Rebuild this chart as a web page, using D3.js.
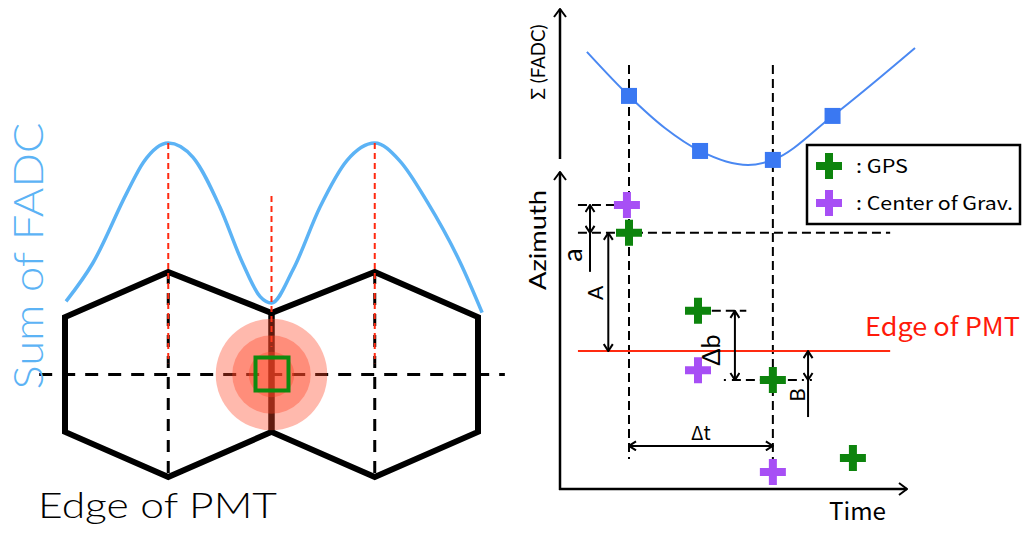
<!DOCTYPE html>
<html><head><meta charset="utf-8">
<script src="https://cdn.jsdelivr.net/npm/d3@7"></script>
<style>html,body{margin:0;padding:0;background:#fff;overflow:hidden}svg{display:block}</style>
</head><body>
<svg id="c" width="1024" height="534"></svg>
<script>
// ================= DATA =================
// Left panel: two PMT hexagons (x in PMT-column units, y in half-height units)
const hexLeft  = [[1,1],[2,0.6],[2,-0.56],[1,-1],[0,-0.56],[0,0.56]];
const hexRight = [[3,1],[4,0.56],[4,-0.56],[3,-1],[2,-0.56],[2,0.6]];
const pmtCenters = [1, 3];          // PMT centre columns (dashed verticals)
const edgeColumn = 2;               // shared edge column
// Sum of FADC along the track (x column units, normalized signal)
const sumFadcX = [0.01,0.27,0.60,0.76,1.00,1.24,1.50,1.72,1.89,2.00,2.21,2.47,2.73,3.00,3.24,3.51,3.83,4.04];
const sumFadcY = [0.01,0.25,0.69,0.88,1.00,0.91,0.60,0.25,0.04,0.00,0.21,0.60,0.89,1.00,0.89,0.63,0.25,-0.06];
const spotRadii = [0.54, 0.38, 0.22]; // shower spot rings (column units)

// Right panel: Σ FADC curve vs time, sample points
const fadcCurveT = [7.8, 20, 30.4, 40.6, 54.5, 61.7, 79, 102.9];
const fadcCurveV = [73.8, 46.3, 26.3, 11.9, 3.1, 6.3, 33.8, 76.3];
const fadcSampleT = [20, 40.6, 61.7, 79];
const fadcSampleV = [46.3, 11.9, 6.3, 33.8];
// Azimuth vs time markers
const gpsT = [20, 40, 61.7, 84.9];
const gpsAz = [80.8, 56.2, 34.4, 9.8];
const cogT = [19.4, 40, 61.7];
const cogAz = [89.6, 37.5, 5.4];
const edgeAz = 43.5;
const t1 = 20, t2 = 61.7;
const legendLabels = [": GPS", ": Center of Grav."];

// ================= DRAW =================
const svg = d3.select('#c');
const defs = svg.append('defs');
function marker(id, w, h) {
  defs.append('marker').attr('id', id).attr('markerUnits', 'userSpaceOnUse')
    .attr('viewBox', `0 0 ${w} ${h}`).attr('markerWidth', w).attr('markerHeight', h)
    .attr('refX', w - 1).attr('refY', h / 2).attr('orient', 'auto-start-reverse')
    .append('path').attr('d', `M1,1 L${w - 1},${h / 2} L1,${h - 1}`)
    .attr('fill', 'none').attr('stroke', '#000').attr('stroke-width', 2);
}
marker('arr', 9, 11);
marker('axarr', 10, 14);

// ---------- Left panel ----------
const xL = d3.scaleLinear().domain([0, 4]).range([65, 478]);
const yL = d3.scaleLinear().domain([-1, 1]).range([477, 272]);
const yS = d3.scaleLinear().domain([0, 1]).range([303, 143]);
const L = svg.append('g');

L.append('path')
  .attr('d', d3.line().curve(d3.curveMonotoneX).x(d => xL(d[0])).y(d => yS(d[1]))(d3.zip(sumFadcX, sumFadcY)))
  .attr('fill', 'none').attr('stroke', '#5cb3f5').attr('stroke-width', 3.5);

// black dashed verticals through PMT centres
L.selectAll('.pv').data(pmtCenters).join('line')
  .attr('x1', d => xL(d)).attr('x2', d => xL(d)).attr('y1', yL(1)).attr('y2', yL(-1))
  .attr('stroke', '#000').attr('stroke-width', 3).attr('stroke-dasharray', '12,9');

// hexagons
const hexLine = d3.line().x(d => xL(d[0])).y(d => yL(d[1]));
L.selectAll('.hex').data([hexLeft, hexRight]).join('path')
  .attr('d', d => hexLine(d) + 'Z')
  .attr('fill', 'none').attr('stroke', '#000').attr('stroke-width', 6).attr('stroke-linejoin', 'miter');

// horizontal dashed track line
L.append('line').attr('x1', xL(-0.25)).attr('x2', xL(4.26)).attr('y1', yL(0)).attr('y2', yL(0))
  .attr('stroke', '#000').attr('stroke-width', 3).attr('stroke-dasharray', '13,10');

// red dashed peak/valley markers
L.selectAll('.rv').data(pmtCenters).join('line')
  .attr('x1', d => xL(d)).attr('x2', d => xL(d)).attr('y1', yS(1)).attr('y2', yL(0.11))
  .attr('stroke', '#ff2a10').attr('stroke-width', 2).attr('stroke-dasharray', '6,4');
L.append('line').attr('x1', xL(edgeColumn)).attr('x2', xL(edgeColumn)).attr('y1', 196).attr('y2', yL(0.27))
  .attr('stroke', '#ff2a10').attr('stroke-width', 2).attr('stroke-dasharray', '6,4');

// shower spot
L.selectAll('.spot').data(spotRadii).join('circle')
  .attr('cx', xL(edgeColumn)).attr('cy', yL(0)).attr('r', d => xL(d) - xL(0))
  .attr('fill', 'rgba(255,70,40,0.38)');
L.append('rect').attr('x', xL(edgeColumn) - 16).attr('y', yL(0) - 17).attr('width', 33).attr('height', 33)
  .attr('fill', 'none').attr('stroke', '#0f8a0f').attr('stroke-width', 4);

L.append('text').attr('transform', `translate(43,256) rotate(-90)`).attr('text-anchor', 'middle')
  .attr('font-family', 'Lato, "Open Sans", sans-serif').attr('font-weight', 300).attr('font-size', 42)
  .attr('fill', '#5cb3f5').attr('textLength', 267).attr('lengthAdjust', 'spacingAndGlyphs')
  .text('Sum of  FADC');
L.append('text').attr('x', 38).attr('y', 518)
  .attr('font-family', 'Lato, "Open Sans", sans-serif').attr('font-weight', 300).attr('font-size', 35)
  .attr('fill', '#000').attr('textLength', 239).attr('lengthAdjust', 'spacingAndGlyphs')
  .text('Edge of PMT');

// ---------- Right panel ----------
const xT = d3.scaleLinear().domain([0, 100]).range([560, 905]);
const yF = d3.scaleLinear().domain([0, 100]).range([170, 10]);
const yA = d3.scaleLinear().domain([0, 100]).range([489, 172]);
const R = svg.append('g');
const jp = '"Noto Sans CJK JP", "Noto Sans", sans-serif';
const geo = 'Lato, "Noto Sans", sans-serif';

// axes
R.append('line').attr('x1', xT(0)).attr('x2', xT(0)).attr('y1', 159).attr('y2', 9)
  .attr('stroke', '#000').attr('stroke-width', 2.5).attr('marker-end', 'url(#axarr)');
R.append('line').attr('x1', xT(0)).attr('x2', xT(0)).attr('y1', yA(0) + 1).attr('y2', yA(100))
  .attr('stroke', '#000').attr('stroke-width', 2.5).attr('marker-end', 'url(#axarr)');
R.append('line').attr('x1', xT(0) - 1).attr('x2', xT(100) + 2).attr('y1', yA(0)).attr('y2', yA(0))
  .attr('stroke', '#000').attr('stroke-width', 2.5).attr('marker-end', 'url(#axarr)');

// FADC curve
R.append('path')
  .attr('d', d3.line().curve(d3.curveMonotoneX).x(d => xT(d[0])).y(d => yF(d[1]))(d3.zip(fadcCurveT, fadcCurveV)))
  .attr('fill', 'none').attr('stroke', '#4a88f2').attr('stroke-width', 2);

// guide dashed lines
const dash = '9,5';
[t1, t2].forEach(t => {
  R.append('line').attr('x1', xT(t)).attr('x2', xT(t)).attr('y1', yF(65.6)).attr('y2', yA(9.5))
    .attr('stroke', '#000').attr('stroke-width', 2).attr('stroke-dasharray', dash);
});
R.append('line').attr('x1', xT(5.2)).attr('x2', xT(95.7)).attr('y1', yA(gpsAz[0])).attr('y2', yA(gpsAz[0]))
  .attr('stroke', '#000').attr('stroke-width', 2).attr('stroke-dasharray', dash);
R.append('line').attr('x1', xT(5.2)).attr('x2', xT(cogT[0])).attr('y1', yA(cogAz[0])).attr('y2', yA(cogAz[0]))
  .attr('stroke', '#000').attr('stroke-width', 2).attr('stroke-dasharray', dash);
R.append('line').attr('x1', xT(44)).attr('x2', xT(54)).attr('y1', yA(gpsAz[1])).attr('y2', yA(gpsAz[1]))
  .attr('stroke', '#000').attr('stroke-width', 2).attr('stroke-dasharray', dash);
R.append('line').attr('x1', xT(47.5)).attr('x2', xT(73)).attr('y1', yA(gpsAz[2])).attr('y2', yA(gpsAz[2]))
  .attr('stroke', '#000').attr('stroke-width', 2).attr('stroke-dasharray', '2,6,9,5,9,5,9,5,9,5,9,5');

// edge of PMT line
R.append('line').attr('x1', xT(5.2)).attr('x2', xT(95.7)).attr('y1', yA(edgeAz)).attr('y2', yA(edgeAz))
  .attr('stroke', '#ff2a10').attr('stroke-width', 2);

// FADC sample squares
R.selectAll('.sq').data(d3.zip(fadcSampleT, fadcSampleV)).join('rect')
  .attr('x', d => xT(d[0]) - 8).attr('y', d => yF(d[1]) - 8).attr('width', 16).attr('height', 16)
  .attr('fill', '#3a78f2');

// arrows
function arrow(x1, y1, x2, y2, both) {
  const l = R.append('line').attr('x1', x1).attr('y1', y1).attr('x2', x2).attr('y2', y2)
    .attr('stroke', '#000').attr('stroke-width', 2).attr('marker-end', 'url(#arr)');
  if (both) l.attr('marker-start', 'url(#arr)');
}
// a
arrow(xT(8.7), yA(cogAz[0]), xT(8.7), yA(gpsAz[0]), true);
R.append('line').attr('x1', xT(8.7)).attr('x2', xT(8.7)).attr('y1', yA(gpsAz[0])).attr('y2', yA(68.5))
  .attr('stroke', '#000').attr('stroke-width', 2);
// A
arrow(xT(14), yA(gpsAz[0]), xT(14), yA(edgeAz), true);
// Δb
arrow(xT(50.7), yA(gpsAz[1]), xT(50.7), yA(gpsAz[2]), true);
// B
arrow(xT(71.9), yA(edgeAz), xT(71.9), yA(gpsAz[2]), true);
R.append('line').attr('x1', xT(71.9)).attr('x2', xT(71.9)).attr('y1', yA(gpsAz[2])).attr('y2', yA(22.7))
  .attr('stroke', '#000').attr('stroke-width', 2);
// Δt
arrow(xT(t1), yA(13.6), xT(t2), yA(13.6), true);

// crosses
function cross(g, x, y, color, s = 13, w = 8) {
  g.append('path').attr('d', `M${x - s},${y}H${x + s}M${x},${y - s}V${y + s}`)
    .attr('stroke', color).attr('stroke-width', w).attr('fill', 'none');
}
const GREEN = '#0d840d', PURPLE = '#a74ff5';
d3.zip(gpsT, gpsAz).forEach(d => cross(R, xT(d[0]), yA(d[1]), GREEN));
d3.zip(cogT, cogAz).forEach(d => cross(R, xT(d[0]), yA(d[1]), PURPLE));

// labels
function vtext(x, y, txt, size, font, len) {
  const t = R.append('text').attr('transform', `translate(${x},${y}) rotate(-90)`).attr('text-anchor', 'middle')
    .attr('font-family', font).attr('font-size', size).attr('fill', '#000').text(txt);
  if (len) t.attr('textLength', len).attr('lengthAdjust', 'spacingAndGlyphs');
}
vtext(545, 62, 'Σ (FADC)', 19, geo, 75);
vtext(546, 240, 'Azimuth', 24, geo, 100);
vtext(582, 255, 'a', 27, geo);
vtext(603, 293, 'A', 21, geo);
vtext(720, 350, 'Δb', 25, geo);
vtext(805, 395, 'B', 21, geo);
R.append('text').attr('x', (xT(t1) + xT(t2)) / 2).attr('y', 440).attr('text-anchor', 'middle')
  .attr('font-family', jp).attr('font-size', 19).text('Δt');
R.append('text').attr('x', 865).attr('y', 336).attr('font-family', jp).attr('font-size', 25)
  .attr('fill', '#ff1a0a').attr('textLength', 155).attr('lengthAdjust', 'spacingAndGlyphs').text('Edge of PMT');
R.append('text').attr('x', 829).attr('y', 520).attr('font-family', jp).attr('font-size', 24)
  .attr('textLength', 57).attr('lengthAdjust', 'spacingAndGlyphs').text('Time');

// legend
const lg = R.append('g');
lg.append('rect').attr('x', 807).attr('y', 145).attr('width', 213).attr('height', 79)
  .attr('fill', '#fff').attr('stroke', '#000').attr('stroke-width', 2.5);
const legLen = [52, 157];
[GREEN, PURPLE].forEach((c, i) => {
  cross(lg, 829, 166 + i * 37, c, 13, 8);
  lg.append('text').attr('x', 856).attr('y', 173 + i * 37).attr('font-family', jp).attr('font-size', 18)
    .attr('textLength', legLen[i]).attr('lengthAdjust', 'spacingAndGlyphs')
    .text(legendLabels[i]);
});
</script>
</body></html>
